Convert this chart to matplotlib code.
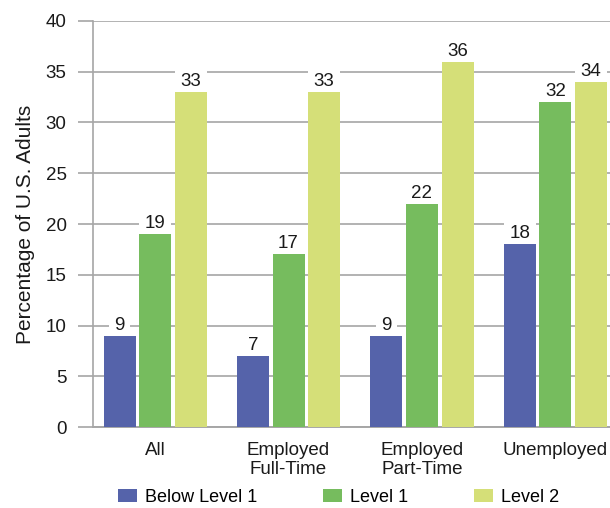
import matplotlib
matplotlib.use('Agg')
import matplotlib.pyplot as plt
import numpy as np

categories = ['All', 'Employed\nFull-Time', 'Employed\nPart-Time', 'Unemployed']
below_level1 = [9, 7, 9, 18]
level1 = [19, 17, 22, 32]
level2 = [33, 33, 36, 34]
series_names = ['Below Level 1', 'Level 1', 'Level 2']
colors = ['#5563aa', '#76bc5e', '#d5df78']

plt.rcParams['font.family'] = ['Liberation Sans', 'DejaVu Sans']

fig = plt.figure(figsize=(6.1, 5.08), dpi=100)
ax = fig.add_axes([0.1525, 0.1594, 0.8475, 0.7993])

x = np.arange(len(categories))
width = 0.24
offset = 0.267
grid_color = '#a6a6a6'
text_color = '#1a1a1a'

for i, (vals, name, col) in enumerate(zip([below_level1, level1, level2], series_names, colors)):
    bars = ax.bar(x + (i - 1) * offset, vals, width, color=col, label=name, zorder=3)
    for b, v in zip(bars, vals):
        # label sits under the bars in z-order so its white box only hides gridlines
        ax.text(b.get_x() + b.get_width() / 2, v + 0.2, str(v), ha='center', va='bottom',
                fontsize=13.5, color=text_color, zorder=2.5,
                bbox=dict(facecolor='white', edgecolor='none', pad=4))

ax.set_xlim(-0.466, 3.41)
ax.set_ylim(0, 40)
ax.set_yticks(range(0, 41, 5))
ax.set_xticks(x)
ax.set_xticklabels(categories, linespacing=1.1)
ax.tick_params(axis='x', length=0, pad=11, labelsize=13.5, labelcolor=text_color)
ax.tick_params(axis='y', length=11, width=1.2, color=grid_color, pad=8, labelsize=13.5, labelcolor=text_color)
ax.yaxis.grid(True, color=grid_color, linewidth=1.2, zorder=0)
ax.set_axisbelow(True)

for s in ['top', 'right']:
    ax.spines[s].set_visible(False)
ax.spines['left'].set_color(grid_color)
ax.spines['left'].set_linewidth(1.2)
ax.spines['bottom'].set_color(grid_color)
ax.spines['bottom'].set_linewidth(1.4)

ax.set_ylabel('Percentage of U.S. Adults', fontsize=15, color=text_color, labelpad=8)

fig.legend(loc='lower left', bbox_to_anchor=(118 / 610, 0.004), ncol=3, frameon=False,
           fontsize=13, borderpad=0, borderaxespad=0, handlelength=1.05, handleheight=0.69,
           handletextpad=0.45, columnspacing=3.65)

fig.savefig('out.png', dpi=100)
plt.close(fig)
